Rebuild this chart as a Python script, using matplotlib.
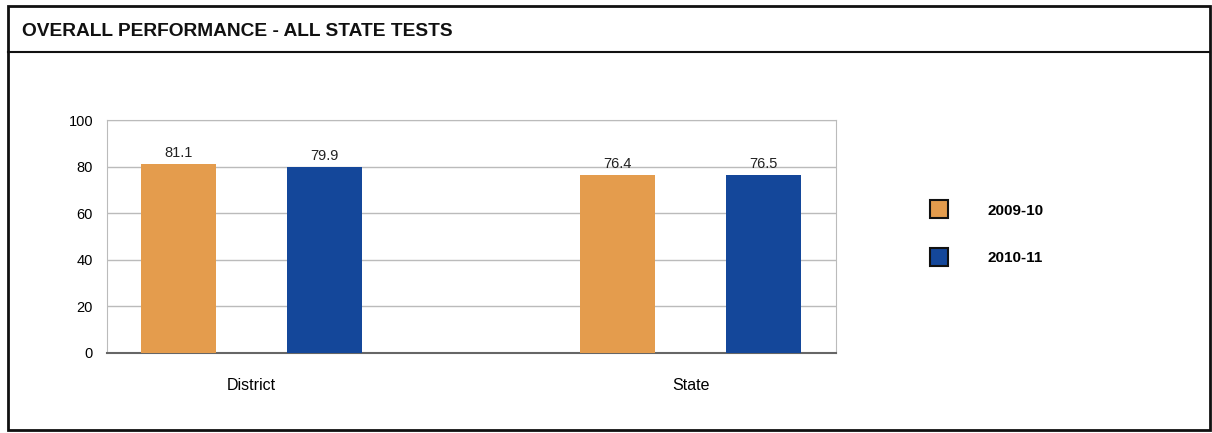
import numpy as np
import matplotlib
matplotlib.use('Agg')
import matplotlib.pyplot as plt
from matplotlib.patches import Rectangle
from matplotlib.lines import Line2D

plt.rcParams['font.family'] = ['Liberation Sans', 'DejaVu Sans']

groups = ['District', 'State']
years = ['2009-10', '2010-11']
scores_0910 = [81.1, 76.4]
scores_1011 = [79.9, 76.5]
yticks = [0, 20, 40, 60, 80, 100]

orange = '#E49C4D'
blue = '#14479A'

W, H = 1212, 433
fig = plt.figure(figsize=(W / 100, H / 100), dpi=100)


def fx(px):
    return px / W


def fy(py):
    return 1 - py / H


# outer frame and title band
fig.patches.append(Rectangle((fx(8), fy(430)), fx(1210) - fx(8), fy(6) - fy(430),
                             transform=fig.transFigure, fill=False,
                             edgecolor='#111111', linewidth=2))
fig.lines.append(Line2D([fx(8), fx(1210)], [fy(52), fy(52)],
                        transform=fig.transFigure, color='#111111', linewidth=1.5))
fig.text(fx(22), fy(32), 'OVERALL PERFORMANCE - ALL STATE TESTS',
         fontsize=13.8, fontweight='bold', va='center', ha='left', color='#111111')

# plot area
ax = fig.add_axes([fx(107), fy(353), fx(836) - fx(107), fy(120) - fy(353)])
x = np.arange(len(groups))
width = 0.171
off = 0.166
b1 = ax.bar(x - off, scores_0910, width, color=orange, label=years[0], zorder=3)
b2 = ax.bar(x + off, scores_1011, width, color=blue, label=years[1], zorder=3)
for bars in (b1, b2):
    ax.bar_label(bars, fmt='%.1f', padding=3, fontsize=10.5, color='#222222')

ax.set_ylim(0, 100)
ax.set_xlim(-0.329, 1.331)
ax.set_yticks(yticks)
ax.set_xticks(x)
ax.set_xticklabels(groups, fontsize=11.5)
ax.tick_params(axis='x', length=0, pad=18)
ax.tick_params(axis='y', length=0, pad=10, labelsize=10.5)
ax.grid(axis='y', color='#bbbbbb', linewidth=1, zorder=0)
for side in ('left', 'right', 'top'):
    ax.spines[side].set_color('#bbbbbb')
ax.spines['bottom'].set_color('#666666')
ax.spines['bottom'].set_linewidth(1.5)

# legend
handles = [Line2D([], [], marker='s', linestyle='none', markersize=13,
                  markerfacecolor=c, markeredgecolor='#111111', markeredgewidth=1.5)
           for c in (orange, blue)]
leg = fig.legend(handles, years, loc='upper left',
                 bbox_to_anchor=(fx(918), fy(190)), frameon=False,
                 prop={'weight': 'bold', 'size': 11}, handletextpad=2.65,
                 labelspacing=2.2, handlelength=1.0)

fig.savefig('out.png', dpi=100)
